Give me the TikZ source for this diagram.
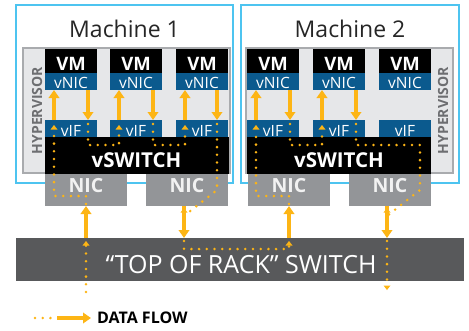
\documentclass[tikz,border=0pt]{standalone}
\usepackage{fontspec}
\setmainfont{Open Sans}
\usetikzlibrary{arrows.meta,calc}

\definecolor{machineblue}{HTML}{4DC4F0}
\definecolor{boxblue}{HTML}{0B5A8E}
\definecolor{flowcol}{HTML}{FDB515}
\definecolor{hvfill}{HTML}{E6E7E9}
\definecolor{hvline}{HTML}{A9ABAE}
\definecolor{nicgray}{HTML}{939598}
\definecolor{torgray}{HTML}{58595B}
\definecolor{hvtext}{HTML}{6D6E71}

\tikzset{
  box/.style={inner sep=0pt, outer sep=0pt, anchor=north west},
  machinebox/.style={draw=machineblue, line width=2.4pt, fill=white},
  hvbox/.style={draw=hvline, line width=2pt, fill=hvfill},
  vmbox/.style={box, fill=black, minimum width=52pt, minimum height=25pt},
  vnicbox/.style={box, fill=boxblue, minimum width=52pt, minimum height=17pt},
  vifbox/.style={box, fill=boxblue, minimum width=52pt, minimum height=17pt},
  vswbox/.style={box, fill=black, minimum width=184pt, minimum height=37pt},
  nicbox/.style={box, fill=nicgray, minimum width=82pt, minimum height=32pt},
  torbox/.style={box, fill=torgray, minimum width=448pt, minimum height=43pt},
  lbl/.style={anchor=base, inner sep=0pt, text=white},
  vmtext/.style={lbl, font=\bfseries\fontsize{18.5}{18.5}\selectfont},
  vnictext/.style={lbl, font=\fontsize{15.5}{15.5}\selectfont},
  vswtext/.style={lbl, font=\bfseries\fontsize{20.5}{20.5}\selectfont},
  nictext/.style={lbl, text=white!95!black, font=\bfseries\fontsize{19.5}{19.5}\selectfont},
  tortext/.style={lbl, font=\fontsize{25}{25}\selectfont},
  machtext/.style={anchor=base, inner sep=0pt, text=black!85, font=\fontsize{23}{23}\selectfont},
  hvlabel/.style={anchor=base, inner sep=0pt, rotate=90, text=hvtext, font=\bfseries\fontsize{14}{14}\selectfont},
  flowline/.style={draw=flowcol, line width=3.2pt, -{Triangle[width=10.5pt,length=8pt]}},
  flowdots/.style={draw=flowcol, line width=2.8pt, line cap=round, dash pattern=on 0pt off 7.7pt},
  dotarrow/.style={flowdots, -{Triangle[width=7pt,length=4.5pt,line width=0pt]}},
}

\begin{document}
\begin{tikzpicture}[x=1pt,y=-1pt]
\useasboundingbox (0,0) rectangle (469,330);

% machine frames
\draw[machinebox] (16.2,5.2) rectangle (232.8,182.8);
\draw[machinebox] (241.2,5.2) rectangle (458.8,182.8);
\node[machtext] (m1label) at (124.5,37) {Machine 1};
\node[machtext] (m2label) at (350,37) {Machine 2};

% hypervisor areas
\draw[hvbox] (23,47.5) rectangle (230,173);
\draw[hvbox] (246,47.5) rectangle (452.5,173);
\node[hvlabel] (hv1) at (42,110.5) {HYPERVISOR};
\node[hvlabel] (hv2) at (448,110.5) {HYPERVISOR};

% VMs with their vNICs and vIFs
\foreach \n/\x in {11/45, 12/110, 13/176, 21/247, 22/313, 23/379} {
  \node[vmbox]   (vm\n)   at (\x,48.5) {};
  \node[vnicbox] (vnic\n) at (\x,73) {};
  \node[vifbox]  (vif\n)  at (\x,120) {};
  \node[vmtext]   (vmt\n)   at ($(\x,70)+(26,0)$) {VM};
  \node[vnictext] (vnict\n) at ($(\x,88)+(26,0)$) {vNIC};
  \node[vnictext] (vift\n)  at ($(\x,136)+(26,0)$) {vIF};
}

% virtual switches
\node[vswbox] (vsw1) at (45,137) {};
\node[vswbox] (vsw2) at (247,137) {};
\node[vswtext] (vswt1) at (136.5,167) {vSWITCH};
\node[vswtext] (vswt2) at (339,167) {vSWITCH};

% physical NICs
\foreach \n/\x in {1/45, 2/146, 3/248, 4/349} {
  \node[nicbox] (nic\n) at (\x,174) {};
  \node[nictext] (nict\n) at ($(\x,192)+(41,0)$) {NIC};
}

% top of rack switch
\node[torbox] (tor) at (16,238) {};
\node[tortext] (tort) at (241,273) {“TOP OF RACK” SWITCH};

% ---------- data flow ----------
\coordinate (inflow) at (86,292);
\coordinate (outflow) at (387,290);

% into machine 1
\draw[dotarrow] (inflow) -- ($(tor.north west)+(70,3)$);
\draw[flowline] (tor.north -| nic1.south) -- (nic1.south);
\draw[dotarrow] ($(nic1.south)+(0,-2)$) -- ($(nic1.south)+(0,-10)$)
  -- ($(nic1.south west)+(9,-10)$) -- ([xshift=9pt,yshift=-5pt]vif11.north west);

% VM to VM inside machine 1
\draw[flowline] ([xshift=-17pt]vif11.north) -- ([xshift=-17pt]vnic11.south);
\draw[flowline] ([xshift=17pt]vnic11.south) -- ([xshift=17pt]vif11.north);
\draw[dotarrow] ([xshift=17pt,yshift=-4pt]vif11.north) -- ([xshift=17pt,yshift=-25pt]vif11.north)
  -- ([xshift=-17pt,yshift=-25pt]vif12.north) -- ([xshift=-17pt,yshift=-5pt]vif12.north);
\draw[flowline] ([xshift=-17pt]vif12.north) -- ([xshift=-17pt]vnic12.south);
\draw[flowline] ([xshift=17pt]vnic12.south) -- ([xshift=17pt]vif12.north);
\draw[dotarrow] ([xshift=17pt,yshift=-4pt]vif12.north) -- ([xshift=17pt,yshift=-25pt]vif12.north)
  -- ([xshift=-17pt,yshift=-25pt]vif13.north) -- ([xshift=-17pt,yshift=-5pt]vif13.north);
\draw[flowline] ([xshift=-17pt]vif13.north) -- ([xshift=-17pt]vnic13.south);
\draw[flowline] ([xshift=15pt]vnic13.south) -- ([xshift=15pt]vif13.north);

% out of machine 1 through the rack switch
\draw[dotarrow] ([xshift=15pt,yshift=-4pt]vif13.north) -- ([xshift=15pt]vif13.north |- nic2.center)
  -- ([xshift=-3pt,yshift=-10pt]nic2.south) -- ([xshift=-3pt,yshift=-2pt]nic2.south);
\draw[flowline] ([xshift=-3pt]nic2.south) -- ([xshift=-3pt]nic2.south |- tor.north);
\draw[dotarrow] ([xshift=-3pt,yshift=-3pt]nic2.south |- tor.north) -- ([xshift=-3pt,yshift=-11pt]nic2.south |- tor.north)
  -- ([yshift=-11pt]nic3.south |- tor.north) -- ([yshift=-3pt]nic3.south |- tor.north);
\draw[flowline] (nic3.south |- tor.north) -- (nic3.south);

% into machine 2
\draw[dotarrow] ($(nic3.south)+(0,-2)$) -- ($(nic3.south)+(0,-10)$)
  -- ($(nic3.south west)+(8,-10)$) -- ([xshift=9pt,yshift=-5pt]vif21.north west);
\draw[flowline] ([xshift=-17pt]vif21.north) -- ([xshift=-17pt]vnic21.south);
\draw[flowline] ([xshift=17pt]vnic21.south) -- ([xshift=17pt]vif21.north);
\draw[dotarrow] ([xshift=17pt,yshift=-4pt]vif21.north) -- ([xshift=17pt,yshift=-25pt]vif21.north)
  -- ([xshift=-17pt,yshift=-25pt]vif22.north) -- ([xshift=-17pt,yshift=-5pt]vif22.north);
\draw[flowline] ([xshift=-17pt]vif22.north) -- ([xshift=-17pt]vnic22.south);
\draw[flowline] ([xshift=17pt]vnic22.south) -- ([xshift=17pt]vif22.north);

% out of machine 2
\draw[dotarrow] ([xshift=17pt,yshift=-4pt]vif22.north) -- ([xshift=17pt,yshift=-25pt]vif22.north)
  -- ([xshift=-11pt,yshift=-25pt]vif23.north east) -- ([xshift=-11pt]vif23.north east |- nic4.center)
  -- ([xshift=-3pt,yshift=-10pt]nic4.south) -- ([xshift=-3pt,yshift=-2pt]nic4.south);
\draw[flowline] ([xshift=-3pt]nic4.south) -- ([xshift=-3pt]nic4.south |- tor.north);
\draw[dotarrow] ([xshift=-3pt,yshift=-3pt]nic4.south |- tor.north) -- (outflow);

% legend
\coordinate (lgdots) at (35,318);
\coordinate (lgdotsend) at (52,318);
\coordinate (lgline) at (57,318);
\coordinate (lgtip) at (91,318);
\draw[flowdots] (lgdots) -- (lgdotsend);
\draw[flowline] (lgline) -- (lgtip);
\node[anchor=base west, inner sep=0pt, font=\bfseries\fontsize{16}{16}\selectfont] (legend) at (97,323.5) {DATA FLOW};
\end{tikzpicture}
\end{document}
